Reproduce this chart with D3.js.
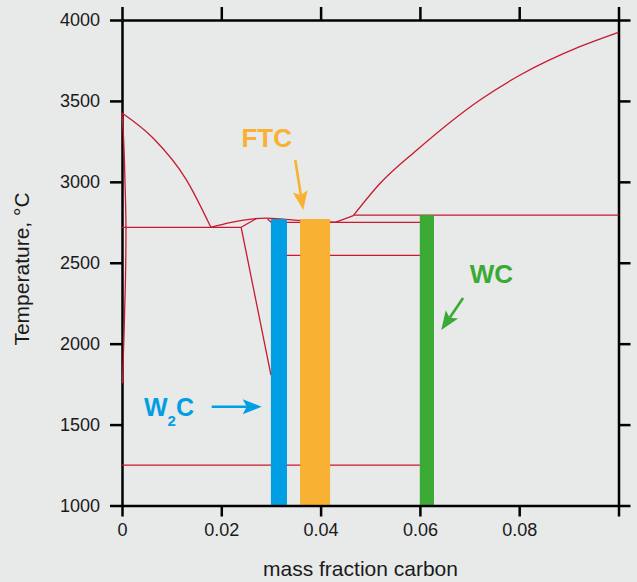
<!DOCTYPE html>
<html>
<head>
<meta charset="utf-8">
<script src="https://cdn.jsdelivr.net/npm/d3@7"></script>
<style>
  body { margin: 0; background: #e8e9e9; }
  svg { display: block; font-family: "Liberation Sans", Arial, Helvetica, sans-serif; }
</style>
</head>
<body>
<div id="chart"></div>
<script>
// phase boundaries, [mass fraction C, temperature °C]
const wLiquidus = [[0, 3425], [0.0063, 3269], [0.0130, 3011], [0.0179, 2719]];
const wSolidus = [[0, 3425], [0.0003, 3280], [0.0006, 3000], [0.0008, 2700], [0.0007, 2400], [0.0004, 2050], [0.0001, 1755]];
const w2cLiquidus = [[0.0179, 2719], [0.022, 2750], [0.026, 2770], [0.029, 2776], [0.033, 2768], [0.037, 2758], [0.0431, 2751]];
const w2cSolidusLeft = [[0.0240, 2719], [0.0270, 2772]];
const w2cSolidusRight = [[0.0293, 2772], [0.0302, 2745]];
const w2cSolvus = [[0.0240, 2719], [0.0300, 1805]];
const wcLiquidusLow = [[0.0431, 2751], [0.0466, 2791]];
const wcLiquidus = [[0.0466, 2791], [0.052, 2991], [0.0594, 3197], [0.0721, 3506], [0.0802, 3660], [0.0922, 3835], [0.1, 3924]];

// horizontal isotherms: [from, to, temperature]
const isotherms = [
  [0, 0.0240, 2719],
  [0.0302, 0.060, 2750],
  [0.0466, 0.1, 2794],
  [0.030, 0.060, 2546],
  [0, 0.060, 1250]
];

// compound bands
const phases = ["W2C", "FTC", "WC"];
const phaseFrom = [0.0300, 0.0359, 0.0600];
const phaseTo = [0.0332, 0.0419, 0.0628];
const phaseTop = [2770, 2770, 2795];
const phaseColor = ["#009fe3", "#f8b133", "#3aaa35"];

// annotations
const labelAt = [[0.00443, 1553], [0.02914, 3217], [0.0744, 2377]];
const arrowFrom = [[0.01807, 1610], [0.0349, 3135], [0.0687, 2282]];
const arrowTo = [[0.02814, 1610], [0.0365, 2826], [0.0643, 2084]];

const xTicks = [0, 0.02, 0.04, 0.06, 0.08, 0.1];
const yTicks = [1000, 1500, 2000, 2500, 3000, 3500, 4000];

const width = 637, height = 582;
const x = d3.scaleLinear().domain([0, 0.1]).range([122, 618.5]);
const y = d3.scaleLinear().domain([1000, 4000]).range([505.5, 20]);

const svg = d3.select("#chart").append("svg")
  .attr("width", width)
  .attr("height", height);

const red = "#c8192f";

// bars first, axes over them, phase lines on top
svg.append("g")
  .selectAll("rect")
  .data(phases)
  .join("rect")
  .attr("x", (d, i) => x(phaseFrom[i]))
  .attr("width", (d, i) => x(phaseTo[i]) - x(phaseFrom[i]))
  .attr("y", (d, i) => y(phaseTop[i]))
  .attr("height", (d, i) => y(1000) - y(phaseTop[i]))
  .attr("fill", (d, i) => phaseColor[i]);

// axes
const fmt = d => d === 0.1 ? "" : (d === 0 ? "0" : d3.format(".2f")(d));

function styleAxis(sel) {
  sel.selectAll("path, line").attr("stroke", "#000").attr("stroke-width", 2.5);
  sel.selectAll("text").attr("fill", "#1a1a1a").attr("font-size", 18);
}

svg.append("g")
  .attr("transform", `translate(0,${y(1000)})`)
  .call(d3.axisBottom(x).tickValues(xTicks).tickFormat(fmt).tickSize(11).tickSizeOuter(0).tickPadding(7))
  .attr("font-family", null)
  .call(styleAxis);

svg.append("g")
  .attr("transform", `translate(0,${y(4000)})`)
  .call(d3.axisTop(x).tickValues(xTicks).tickFormat("").tickSize(13).tickSizeOuter(0))
  .call(styleAxis);

svg.append("g")
  .attr("transform", `translate(${x(0)},0)`)
  .call(d3.axisLeft(y).tickValues(yTicks).tickFormat(d3.format("d")).tickSize(12).tickSizeOuter(0).tickPadding(10))
  .attr("font-family", null)
  .call(styleAxis);

svg.append("g")
  .attr("transform", `translate(${x(0.1)},0)`)
  .call(d3.axisRight(y).tickValues(yTicks).tickFormat("").tickSize(12).tickSizeOuter(0))
  .call(styleAxis);

const line = d3.line().x(d => x(d[0])).y(d => y(d[1]));

const g = svg.append("g")
  .attr("fill", "none")
  .attr("stroke", red)
  .attr("stroke-width", 1.3);

g.append("path").attr("d", line.curve(d3.curveMonotoneX)(wLiquidus));
g.append("path").attr("d", line.curve(d3.curveMonotoneY)(wSolidus));
g.append("path").attr("d", line.curve(d3.curveMonotoneX)(w2cLiquidus));
g.append("path").attr("d", line.curve(d3.curveMonotoneX)(wcLiquidus));
line.curve(d3.curveLinear);
[w2cSolidusLeft, w2cSolidusRight, w2cSolvus, wcLiquidusLow].forEach(p => {
  g.append("path").attr("d", line(p));
});

g.selectAll("line.iso")
  .data(isotherms)
  .join("line")
  .attr("class", "iso")
  .attr("x1", d => x(d[0]))
  .attr("x2", d => x(d[1]))
  .attr("y1", d => y(d[2]))
  .attr("y2", d => y(d[2]));

// bars cover the isotherms that run through them
svg.append("g")
  .selectAll("rect")
  .data(phases)
  .join("rect")
  .attr("x", (d, i) => x(phaseFrom[i]))
  .attr("width", (d, i) => x(phaseTo[i]) - x(phaseFrom[i]))
  .attr("y", (d, i) => y(phaseTop[i]))
  .attr("height", (d, i) => y(1000) - y(phaseTop[i]) - 1.3)
  .attr("fill", (d, i) => phaseColor[i]);

// axis titles
svg.append("text")
  .attr("x", 360.5)
  .attr("y", 575.5)
  .attr("text-anchor", "middle")
  .attr("font-size", 21)
  .attr("fill", "#1a1a1a")
  .text("mass fraction carbon");

svg.append("text")
  .attr("transform", "translate(29,269) rotate(-90)")
  .attr("text-anchor", "middle")
  .attr("font-size", 21)
  .attr("fill", "#1a1a1a")
  .text("Temperature, °C");

// labels and arrows
const W2C = 0, FTC = 1, WC = 2;

const w2cText = svg.append("text")
  .attr("x", x(labelAt[W2C][0]))
  .attr("y", y(labelAt[W2C][1]))
  .attr("font-size", 25)
  .attr("font-weight", "bold")
  .attr("fill", phaseColor[W2C]);
w2cText.append("tspan").text("W");
w2cText.append("tspan").attr("font-size", 15).attr("dy", 10).text("2");
w2cText.append("tspan").attr("dy", -10).text("C");

svg.append("text")
  .attr("x", x(labelAt[FTC][0]))
  .attr("y", y(labelAt[FTC][1]))
  .attr("text-anchor", "middle")
  .attr("font-size", 26)
  .attr("font-weight", "bold")
  .attr("fill", phaseColor[FTC])
  .text("FTC");

svg.append("text")
  .attr("x", x(labelAt[WC][0]))
  .attr("y", y(labelAt[WC][1]))
  .attr("text-anchor", "middle")
  .attr("font-size", 26)
  .attr("font-weight", "bold")
  .attr("fill", phaseColor[WC])
  .text("WC");

phases.forEach((p, i) => {
  const x1 = x(arrowFrom[i][0]), y1 = y(arrowFrom[i][1]);
  const x2 = x(arrowTo[i][0]), y2 = y(arrowTo[i][1]);
  const a = Math.atan2(y2 - y1, x2 - x1);
  const head = 19, half = 7.5;
  const bx = x2 - head * Math.cos(a), by = y2 - head * Math.sin(a);
  svg.append("line")
    .attr("x1", x1).attr("y1", y1)
    .attr("x2", bx + 4 * Math.cos(a)).attr("y2", by + 4 * Math.sin(a))
    .attr("stroke", phaseColor[i])
    .attr("stroke-width", 2.6);
  svg.append("path")
    .attr("d", `M${x2},${y2}L${bx - half * Math.sin(a)},${by + half * Math.cos(a)}L${bx + 4 * Math.cos(a)},${by + 4 * Math.sin(a)}L${bx + half * Math.sin(a)},${by - half * Math.cos(a)}Z`)
    .attr("fill", phaseColor[i]);
});
</script>
</body>
</html>
